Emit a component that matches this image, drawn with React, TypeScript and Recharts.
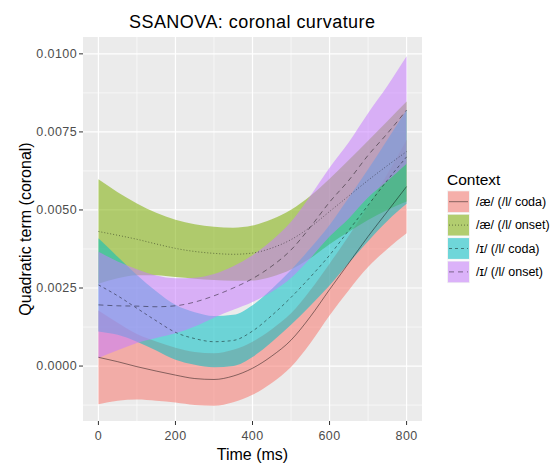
import React from "react";
import { ComposedChart, Area, Line, XAxis, YAxis, CartesianGrid } from "recharts";

// ---- data (time in ms, value = quadratic term) ----
const TIME = [0, 50, 100, 150, 200, 250, 300, 350, 400, 450, 500, 550, 600, 650, 700, 750, 800];

const AE_CODA_FIT = [0.00028, 0.00014, -0.00002, -0.00016, -0.00029, -0.0004, -0.00043, -0.00032, -0.00007, 0.00032, 0.00083, 0.00158, 0.00245, 0.0033, 0.00415, 0.00495, 0.00575];
const AE_CODA_CI = [0.0015, 0.00125, 0.00105, 0.00095, 0.00088, 0.00085, 0.00084, 0.00084, 0.00085, 0.00086, 0.00086, 0.00085, 0.00083, 0.00087, 0.00098, 0.0012, 0.0015];

const AE_ONSET_FIT = [0.00431, 0.00419, 0.00406, 0.00391, 0.00377, 0.00367, 0.00361, 0.00358, 0.00362, 0.00378, 0.00405, 0.00445, 0.00495, 0.00545, 0.00595, 0.00642, 0.00687];
const AE_ONSET_CI = [0.00167, 0.00138, 0.00115, 0.001, 0.00092, 0.00087, 0.00085, 0.00085, 0.00088, 0.00092, 0.00096, 0.001, 0.00105, 0.00115, 0.00127, 0.00142, 0.0016];

const I_CODA_FIT = [0.0026, 0.00225, 0.00185, 0.00145, 0.00108, 0.00088, 0.00078, 0.00082, 0.00112, 0.00162, 0.0022, 0.00285, 0.00355, 0.00435, 0.00515, 0.00595, 0.0067];
const I_CODA_CI = [0.00149, 0.00125, 0.00107, 0.00095, 0.00088, 0.00084, 0.00082, 0.00082, 0.00083, 0.00085, 0.00088, 0.00092, 0.00097, 0.00105, 0.00115, 0.0013, 0.0015];

const I_ONSET_FIT = [0.00196, 0.00193, 0.00192, 0.0019, 0.00193, 0.00205, 0.00225, 0.0025, 0.0028, 0.0032, 0.00372, 0.00445, 0.00525, 0.00595, 0.00675, 0.00745, 0.0082];
const I_ONSET_CI = [0.0017, 0.00142, 0.00118, 0.001, 0.00088, 0.00078, 0.0007, 0.0007, 0.00075, 0.00082, 0.0009, 0.001, 0.0011, 0.00122, 0.00135, 0.00152, 0.00172];

const SERIES_LABELS = ["/æ/ (/l/ coda)", "/æ/ (/l/ onset)", "/ɪ/ (/l/ coda)", "/ɪ/ (/l/ onset)"];
const X_TICKS = [0, 200, 400, 600, 800];
const X_MINOR = [100, 300, 500, 700];
const Y_TICKS = [0, 0.0025, 0.005, 0.0075, 0.01];
const Y_MINOR = [-0.00125, 0.00125, 0.00375, 0.00625, 0.00875];

const COLORS = ["#F8766D", "#7CAE00", "#00BFC4", "#C77CFF"];
const DASHES = ["", "1 2", "3 3", "5 4"];
const KEYS = ["aeCoda", "aeOnset", "iCoda", "iOnset"];
const FITS = [AE_CODA_FIT, AE_ONSET_FIT, I_CODA_FIT, I_ONSET_FIT];
const CIS = [AE_CODA_CI, AE_ONSET_CI, I_CODA_CI, I_ONSET_CI];

const data = TIME.map((t, i) => {
  const row: any = { t };
  KEYS.forEach((k, s) => {
    row[k] = FITS[s][i];
    row[k + "Band"] = [FITS[s][i] - CIS[s][i], FITS[s][i] + CIS[s][i]];
  });
  return row;
});

const FONT = "'Liberation Sans', Arial, Helvetica, sans-serif";
const TICK_STYLE = { fill: "#4D4D4D", fontSize: 12.5, fontFamily: FONT, letterSpacing: 0.4 };
const RIBBON_ALPHA = 0.54;

export default function App() {
  return (
    <div style={{ position: "absolute", left: 0, top: 0, width: 551, height: 464, background: "#fff", fontFamily: FONT }}>
      <div style={{ position: "absolute", left: 0, top: 0 }}>
        <ComposedChart width={551} height={464} data={data} margin={{ top: 37, right: 129, bottom: 0, left: 0 }}>
          <CartesianGrid fill="#EBEBEB" fillOpacity={1} stroke="#FFFFFF" strokeWidth={0.6} horizontalValues={Y_MINOR} verticalValues={X_MINOR} />
          <CartesianGrid stroke="#FFFFFF" strokeWidth={1.2} horizontalValues={Y_TICKS} verticalValues={X_TICKS} />
          <XAxis
            dataKey="t"
            type="number"
            domain={[-40, 840]}
            allowDataOverflow
            ticks={X_TICKS}
            height={43}
            axisLine={false}
            tickLine={{ stroke: "#333333" }}
            tickSize={4}
            tickMargin={6}
            tick={TICK_STYLE}
          />
          <YAxis
            type="number"
            domain={[-0.00176, 0.01054]}
            allowDataOverflow
            ticks={Y_TICKS}
            width={83}
            axisLine={false}
            tickLine={{ stroke: "#333333" }}
            tickSize={4}
            tickMargin={2}
            tickFormatter={(v: number) => v.toFixed(4)}
            tick={TICK_STYLE}
          />
          {KEYS.map((k, s) => (
            <Area
              key={k + "Band"}
              dataKey={k + "Band"}
              type="monotone"
              fill={COLORS[s]}
              fillOpacity={RIBBON_ALPHA}
              stroke="none"
              isAnimationActive={false}
              activeDot={false}
            />
          ))}
          {KEYS.map((k, s) => (
            <Line
              key={k}
              dataKey={k}
              type="monotone"
              stroke="#000000"
              strokeOpacity={0.75}
              strokeWidth={0.6}
              strokeDasharray={DASHES[s]}
              dot={false}
              activeDot={false}
              isAnimationActive={false}
            />
          ))}
        </ComposedChart>
      </div>
      <svg width={551} height={464} style={{ position: "absolute", left: 0, top: 0, pointerEvents: "none" }}>
        <text x={252} y={28} textAnchor="middle" fontSize={18} textLength={246} lengthAdjust="spacing" fill="#000" fontFamily={FONT}>SSANOVA: coronal curvature</text>
        <text x={252.5} y={460} textAnchor="middle" fontSize={16} fill="#000" fontFamily={FONT}>Time (ms)</text>
        <text x={0} y={0} transform="translate(30.5,229) rotate(-90)" textAnchor="middle" fontSize={16} fill="#000" fontFamily={FONT}>Quadratic term (coronal)</text>
        <text x={447} y={185} fontSize={15.5} fill="#000" fontFamily={FONT}>Context</text>
        {SERIES_LABELS.map((lab, s) => {
          const top = 190.5 + s * 23.4;
          return (
            <g key={lab}>
              <rect x={447} y={top} width={23} height={22.4} fill="#F2F2F2" />
              <rect x={448} y={top + 0.8} width={21} height={20.8} fill={COLORS[s]} fillOpacity={RIBBON_ALPHA} />
              <line x1={449} x2={468} y1={top + 11.2} y2={top + 11.2} stroke="#000" strokeOpacity={0.75} strokeWidth={0.6} strokeDasharray={DASHES[s]} />
              <text x={476} y={top + 15.5} fontSize={12.5} fill="#000" fontFamily={FONT}>{lab}</text>
            </g>
          );
        })}
      </svg>
    </div>
  );
}
